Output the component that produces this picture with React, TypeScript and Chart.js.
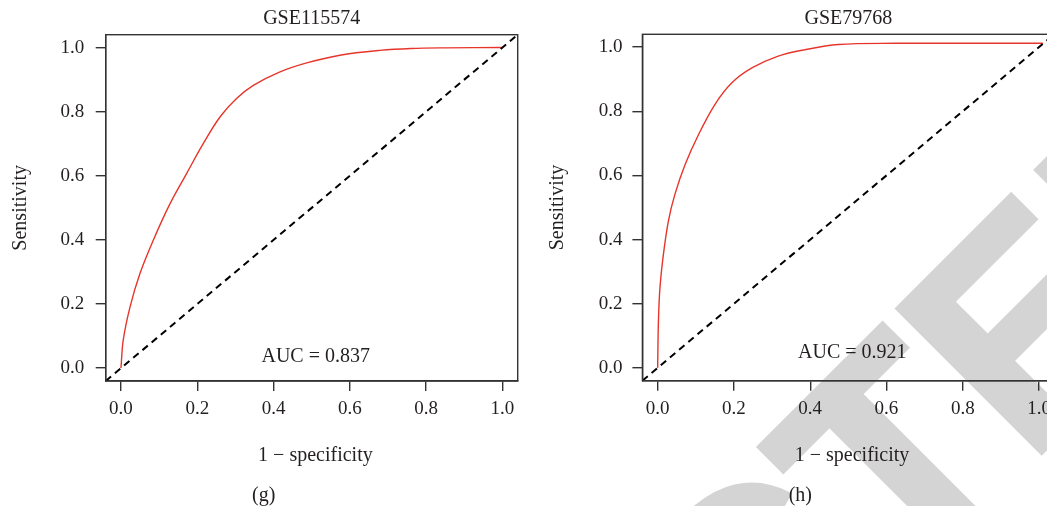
import React, { useEffect, useRef } from "react";
import { Chart, registerables } from "chart.js";

Chart.register(...registerables);

// ---------- data ----------
const TICKS = [0, 0.2, 0.4, 0.6, 0.8, 1.0];
const AXIS_MIN = -0.04;
const AXIS_MAX = 1.04;
const DIAG = [-0.04, 1.04];

const G_TITLE = "GSE115574";
const G_AUC = "AUC = 0.837";
const G_CAPTION = "(g)";
const G_FPR = [0, 0.006, 0.024, 0.05, 0.085, 0.129, 0.172, 0.216, 0.26, 0.303, 0.347, 0.417, 0.487, 0.574, 0.679, 0.76, 0.85, 1.0];
const G_TPR = [0, 0.088, 0.192, 0.296, 0.4, 0.514, 0.607, 0.701, 0.784, 0.841, 0.882, 0.924, 0.952, 0.976, 0.991, 0.997, 0.999, 1.0];

const H_TITLE = "GSE79768";
const H_AUC = "AUC = 0.921";
const H_CAPTION = "(h)";
const H_FPR = [0, 0.002, 0.006, 0.015, 0.028, 0.045, 0.072, 0.107, 0.15, 0.194, 0.247, 0.316, 0.386, 0.474, 0.622, 0.8, 1.01];
const H_TPR = [0, 0.145, 0.249, 0.353, 0.457, 0.54, 0.634, 0.727, 0.821, 0.888, 0.935, 0.972, 0.992, 1.008, 1.012, 1.012, 1.012];

const X_LABEL = "1 \u2212 specificity";
const Y_LABEL = "Sensitivity";
const WATERMARK = "RETRACTED";

// ---------- styles ----------
const FONT = "'Liberation Serif', 'Times New Roman', serif";
const WM_FONT = "'Liberation Sans', Arial, sans-serif";
const TEXT = "#231f20";
const AXIS = "#333333";
const RED = "#e8352b";
const WM_COLOR = "#d4d4d4";

type PanelProps = {
  left: number;
  title: string;
  auc: string;
  caption: string;
  fpr: number[];
  tpr: number[];
  yAxisWidth: number;
  padRight: number;
  padTop: number;
  xAxisHeight: number;
  aucOffsetY: number;
  yTickPad: number;
  watermark: boolean;
};

// draws the rotated stamp behind the chart (page coordinates -> canvas coordinates)
function drawWatermark(ctx: CanvasRenderingContext2D, canvasLeft: number) {
  const size = 294;
  const thicken = 6;
  ctx.save();
  ctx.font = `bold ${size}px ${WM_FONT}`;
  const prefixE = WATERMARK.slice(0, WATERMARK.lastIndexOf("E"));
  const mE = ctx.measureText("E");
  const mT = ctx.measureText("T");
  const capH = mT.actualBoundingBoxAscent;
  const eInkLeftU = 413 + thicken / 2; // along the rotated baseline
  const capLineB = 846.2 + thicken / 2; // perpendicular offset of the cap line
  const startU = eInkLeftU + mE.actualBoundingBoxLeft - ctx.measureText(prefixE).width;
  ctx.translate(-canvasLeft, 0);
  ctx.rotate(-Math.PI / 4);
  ctx.fillStyle = WM_COLOR;
  ctx.strokeStyle = WM_COLOR;
  ctx.lineWidth = thicken;
  ctx.lineJoin = "miter";
  ctx.textBaseline = "alphabetic";
  ctx.textAlign = "left";
  ctx.fillText(WATERMARK, startU, capLineB + capH);
  ctx.strokeText(WATERMARK, startU, capLineB + capH);
  ctx.restore();
}

function Panel(p: PanelProps) {
  const ref = useRef<HTMLCanvasElement | null>(null);
  useEffect(() => {
    if (!ref.current) return;
    const textPlugin = {
      id: "rocText",
      beforeDraw(chart: any) {
        if (p.watermark) drawWatermark(chart.ctx, p.left);
      },
      afterDraw(chart: any) {
        const { ctx, chartArea } = chart;
        const cx = (chartArea.left + chartArea.right) / 2;
        ctx.save();
        ctx.strokeStyle = AXIS;
        ctx.lineWidth = 1.4;
        ctx.strokeRect(chartArea.left, chartArea.top, chartArea.right - chartArea.left, chartArea.bottom - chartArea.top);
        ctx.fillStyle = TEXT;
        ctx.textAlign = "center";
        ctx.textBaseline = "middle";
        ctx.font = `20px ${FONT}`;
        ctx.fillText(p.title, cx, 18.5);
        ctx.fillText(p.auc, cx + 4, chartArea.bottom - p.aucOffsetY);
        ctx.fillText(X_LABEL, cx + 3.7, 455.5);
        ctx.fillText(p.caption, cx - 48, 496);
        ctx.translate(chartArea.left - 85, (chartArea.top + chartArea.bottom) / 2);
        ctx.rotate(-Math.PI / 2);
        ctx.fillText(Y_LABEL, 0, 0);
        ctx.restore();
      },
    };
    const curve = p.fpr.map((x, i) => ({ x, y: p.tpr[i] }));
    const diag = DIAG.map((v) => ({ x: v, y: v }));
    const tickCfg = {
      font: { family: FONT, size: 19 },
      color: TEXT,
      autoSkip: false,
      maxRotation: 0,
      callback: (v: any) => Number(v).toFixed(1),
    };
    const gridCfg = {
      drawOnChartArea: false,
      drawTicks: true,
      tickLength: 10,
      color: AXIS,
      lineWidth: 1.4,
    };
    const chart = new Chart(ref.current, {
      type: "scatter",
      data: {
        datasets: [
          {
            data: curve,
            showLine: true,
            borderColor: RED,
            borderWidth: 1.4,
            pointRadius: 0,
            tension: 0.35,
            order: 1,
          } as any,
          {
            data: diag,
            showLine: true,
            borderColor: "#000000",
            borderWidth: 2,
            borderDash: [7, 5],
            pointRadius: 0,
            tension: 0,
            order: 0,
          } as any,
        ],
      },
      options: {
        animation: false,
        responsive: false,
        maintainAspectRatio: false,
        events: [],
        layout: { padding: { left: 0, right: p.padRight, top: p.padTop, bottom: 0 } },
        plugins: { legend: { display: false }, tooltip: { enabled: false }, title: { display: false } },
        scales: {
          x: {
            type: "linear",
            min: AXIS_MIN,
            max: AXIS_MAX,
            afterBuildTicks: (s: any) => {
              s.ticks = TICKS.map((v) => ({ value: v }));
            },
            afterFit: (s: any) => {
              s.height = p.xAxisHeight;
            },
            grid: gridCfg,
            border: { display: true, color: AXIS, width: 1.4 },
            ticks: { ...tickCfg, padding: 7 },
          },
          y: {
            type: "linear",
            min: AXIS_MIN,
            max: AXIS_MAX,
            afterBuildTicks: (s: any) => {
              s.ticks = TICKS.map((v) => ({ value: v }));
            },
            afterFit: (s: any) => {
              s.width = p.yAxisWidth;
            },
            grid: gridCfg,
            border: { display: true, color: AXIS, width: 1.4 },
            ticks: { ...tickCfg, padding: p.yTickPad },
          },
        },
      } as any,
      plugins: [textPlugin],
    });
    return () => chart.destroy();
  }, []);
  return (
    <canvas
      ref={ref}
      width={530}
      height={506}
      style={{ position: "absolute", left: p.left, top: 0, width: 530, height: 506 }}
    />
  );
}

export default function App() {
  return (
    <div
      style={{
        position: "fixed",
        left: 0,
        top: 0,
        width: 1047,
        height: 506,
        overflow: "hidden",
        background: "#ffffff",
      }}
    >
      <Panel
        left={0}
        title={G_TITLE}
        auc={G_AUC}
        caption={G_CAPTION}
        fpr={G_FPR}
        tpr={G_TPR}
        yAxisWidth={105.7}
        padRight={12.3}
        padTop={34.7}
        xAxisHeight={125}
        aucOffsetY={24.3}
        yTickPad={11.4}
        watermark={false}
      />
      <Panel
        left={530}
        title={H_TITLE}
        auc={H_AUC}
        caption={H_CAPTION}
        fpr={H_FPR}
        tpr={H_TPR}
        yAxisWidth={112.4}
        padRight={5.7}
        padTop={34.3}
        xAxisHeight={125.3}
        aucOffsetY={28.2}
        yTickPad={10}
        watermark={true}
      />
    </div>
  );
}
